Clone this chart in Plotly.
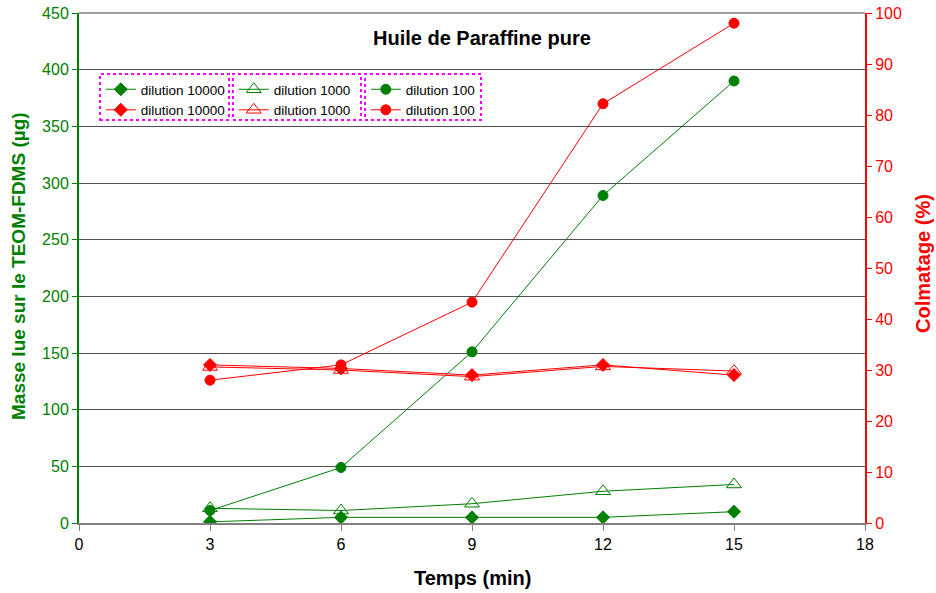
import plotly.graph_objects as go

temps = [3, 6, 9, 12, 15]
masse_10000 = [1, 5, 5, 5, 10]
masse_1000 = [13, 11, 17, 28, 34]
masse_100 = [11, 49, 151, 289, 390]
colm_10000 = [31, 30.3, 29, 31, 29]
colm_1000 = [30.6, 30, 28.7, 30.7, 29.8]
colm_100 = [28, 31, 43.3, 82.2, 98]

x_ticks = [0, 3, 6, 9, 12, 15, 18]
y_ticks = list(range(0, 451, 50))
y2_ticks = list(range(0, 101, 10))

GREEN = "#008000"
RED = "#FF0000"
FONT = "Liberation Sans, Arial, sans-serif"

fig = go.Figure()

def add(x, y, name, color, symbol, size, legend, yaxis="y"):
    fig.add_trace(go.Scatter(
        x=x, y=y, name=name, mode="lines+markers", yaxis=yaxis, legend=legend,
        line=dict(color=color, width=1),
        marker=dict(color=color, symbol=symbol, size=size,
                    line=dict(color=color, width=1)),
    ))

add(temps, masse_10000, "dilution 10000", GREEN, "diamond", 10, "legend")
add(temps, colm_10000, "dilution 10000", RED, "diamond", 10, "legend", "y2")
add(temps, masse_1000, "dilution 1000", GREEN, "triangle-up-open", 13, "legend2")
add(temps, colm_1000, "dilution 1000", RED, "triangle-up-open", 13, "legend2", "y2")
add(temps, masse_100, "dilution 100", GREEN, "circle", 10, "legend3")
add(temps, colm_100, "dilution 100", RED, "circle", 10, "legend3", "y2")

W, H = 936, 593
ml, mr, mt, mb = 79, 71, 13, 70
pw, ph = W - ml - mr, H - mt - mb

def px(xp):
    return (xp - ml) / pw

def py(yp):
    return (H - mb - yp) / ph

legend_font = dict(family=FONT, size=13.5, color="black")
boxes = [(100, 229), (233, 361), (365, 481)]
legends = {}
for i, (x0, x1) in enumerate(boxes):
    key = "legend" if i == 0 else f"legend{i+1}"
    legends[key] = dict(
        x=px(x0) + 0.001, y=py(74), xanchor="left", yanchor="top",
        bgcolor="rgba(255,255,255,0)", borderwidth=0, font=legend_font,
        itemwidth=30, tracegroupgap=0,
    )

shapes = []
for x0, x1 in boxes:
    shapes.append(dict(type="rect", xref="paper", yref="paper",
                       x0=px(x0), x1=px(x1), y0=py(120), y1=py(74),
                       line=dict(color="#FF00FF", width=2, dash="dot"),
                       fillcolor="rgba(0,0,0,0)"))
shapes.append(dict(type="line", xref="paper", yref="paper", x0=0, x1=1, y0=1, y1=1,
                   line=dict(color="#A0A0A0", width=2)))

TITLE = 20
annotations = [
    dict(text="<b>Huile de Paraffine pure</b>", xref="paper", yref="paper",
         x=px(482), y=py(38), xanchor="center", yanchor="middle",
         showarrow=False, font=dict(family=FONT, size=TITLE, color="black")),
    dict(text="<b>Temps (min)</b>", xref="paper", yref="paper",
         x=0.5, y=py(578), xanchor="center", yanchor="middle",
         showarrow=False, font=dict(family=FONT, size=TITLE, color="black")),
    dict(text="<b>Masse lue sur le TEOM-FDMS (µg)</b>", xref="paper", yref="paper",
         x=px(18), y=py(266), xanchor="center", yanchor="middle", textangle=-90,
         showarrow=False, font=dict(family=FONT, size=19, color=GREEN)),
    dict(text="<b>Colmatage (%)</b>", xref="paper", yref="paper",
         x=px(923), y=py(264), xanchor="center", yanchor="middle", textangle=-90,
         showarrow=False, font=dict(family=FONT, size=TITLE, color=RED)),
]

TICK = 16
fig.update_layout(
    width=W, height=H,
    margin=dict(l=ml, r=mr, t=mt, b=mb),
    paper_bgcolor="white", plot_bgcolor="white",
    font=dict(family=FONT, size=14),
    showlegend=True,
    shapes=shapes,
    annotations=annotations,
    xaxis=dict(range=[0, 18], tickvals=x_ticks, ticktext=[str(v) for v in x_ticks],
               showgrid=False, zeroline=False, showline=True, linecolor="#808080",
               linewidth=2, ticks="outside", tickcolor="#808080", ticklen=6,
               automargin=False,
               tickfont=dict(family=FONT, size=TICK, color="black")),
    yaxis=dict(range=[0, 450], tickvals=y_ticks, showgrid=True, gridcolor="#505050",
               gridwidth=1, zeroline=False, showline=True, linecolor=GREEN, linewidth=2,
               ticks="outside", tickcolor=GREEN, ticklen=5, automargin=False,
               tickfont=dict(family=FONT, size=TICK, color=GREEN)),
    yaxis2=dict(range=[0, 100], tickvals=y2_ticks, overlaying="y", side="right",
                showgrid=False, zeroline=False, showline=True, linecolor=RED, linewidth=2,
                ticks="outside", tickcolor=RED, ticklen=5, automargin=False,
                tickfont=dict(family=FONT, size=TICK, color=RED)),
    **legends,
)

fig.write_html("out.html")
